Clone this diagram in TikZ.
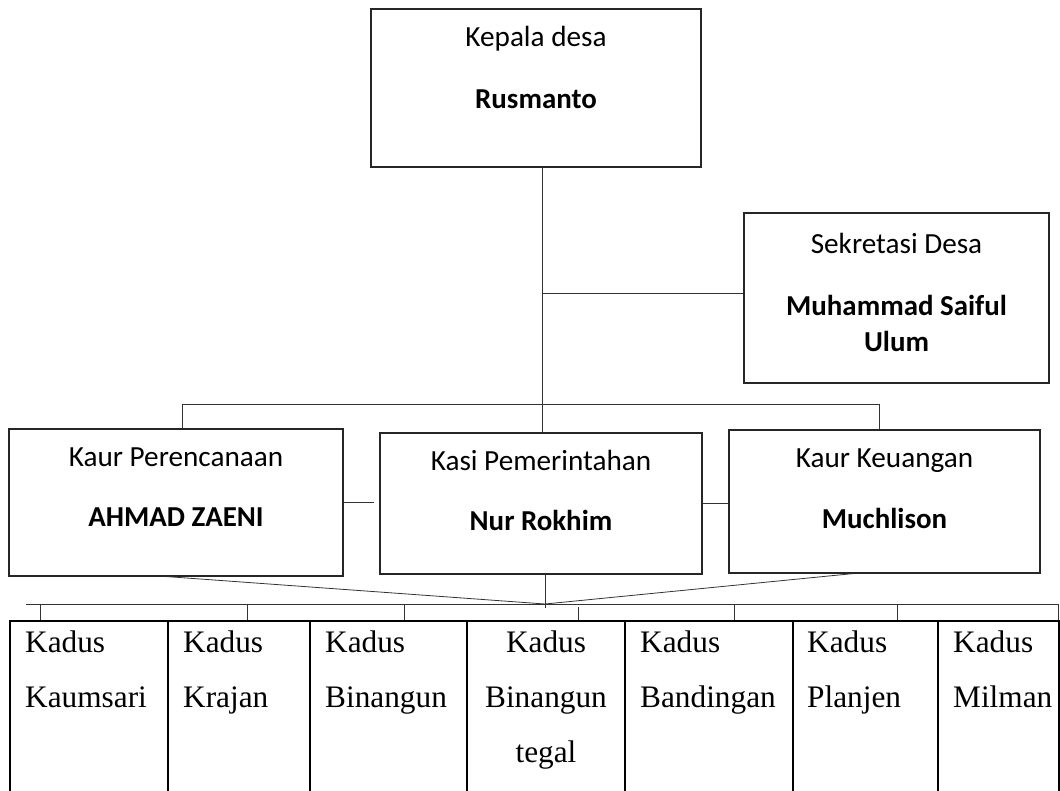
\documentclass[tikz,border=0pt]{standalone}
\usepackage{fontspec}
\setmainfont{Liberation Serif}
\newfontfamily\carlfont{Carlito}
\begin{document}
\begin{tikzpicture}[x=1pt,y=-1pt,
  box/.style={draw=black!85,line width=1.2pt,rectangle,inner sep=0pt},
  cell/.style={draw=black,line width=1.4pt,rectangle,inner sep=0pt,minimum height=179pt},
  conn/.style={draw=black!80,line width=0.8pt},
  tick/.style={draw=black!80,line width=0.8pt},
  bt/.style={anchor=base,inner sep=0pt,font=\carlfont\fontsize{29.2}{34}\selectfont},
  bb/.style={anchor=base,inner sep=0pt,font=\carlfont\bfseries\fontsize{28.9}{34}\selectfont},
  kt/.style={anchor=base west,inner sep=0pt,font=\fontsize{31.3}{36}\selectfont},
  kc/.style={anchor=base,inner sep=0pt,font=\fontsize{31.3}{36}\selectfont}]
\useasboundingbox (0,0) rectangle (1060,791);
\clip (0,0) rectangle (1060,791);
% boxes
\node[box,minimum width=330pt,minimum height=158pt] (kades) at (536,88) {};
\node[box,minimum width=305pt,minimum height=170pt] (sek) at (896.5,298) {};
\node[box,minimum width=334pt,minimum height=147pt] (perenc) at (176,502.5) {};
\node[box,minimum width=322pt,minimum height=141pt] (kasi) at (541,503.5) {};
\node[box,minimum width=311pt,minimum height=143pt] (keu) at (884.5,501.5) {};
% box texts
\node[bt] (t1) at (536,46.7) {Kepala desa};
\node[bb] (t2) at (536,108.3) {Rusmanto};
\node[bt] (t3) at (896.5,253.5) {Sekretasi Desa};
\node[bb] (t4) at (896.5,316) {Muhammad Saiful};
\node[bb] (t5) at (896.5,351.5) {Ulum};
\node[bt] (t6) at (176,466.7) {Kaur Perencanaan};
\node[bb] (t7) at (176,526.7) {AHMAD ZAENI};
\node[bt] (t8) at (541,470.7) {Kasi Pemerintahan};
\node[bb] (t9) at (541,530.7) {Nur Rokhim};
\node[bt] (t10) at (884.5,467.3) {Kaur Keuangan};
\node[bb] (t11) at (884.5,528.3) {Muchlison};
% connectors
\coordinate (vx) at ([xshift=1pt]kasi.north);
\draw[conn] (vx |- kades.south) -- (vx);
\coordinate (sekin) at ([yshift=5pt]sek.west);
\draw[conn] (vx |- sekin) -- (sekin);
\draw[conn] ([xshift=6pt]perenc.north) -- ++(0,-24) -| ([xshift=-5.5pt]keu.north);
\coordinate (g1) at ([xshift=-5pt]kasi.west);
\draw[conn] (perenc.east) -- (perenc.east -| g1);
\draw[conn] (kasi.east) -- (kasi.east -| keu.west);
\coordinate (jn) at (545,604);
\draw[conn] ([xshift=4pt]kasi.south) -- ++(0,33);
\draw[conn] ([xshift=-9pt]perenc.south) -- (jn);
\draw[conn] ([xshift=-31.5pt]keu.south) -- (jn);
% table cells
\node[cell,minimum width=158pt] (c1) at (89,710.5) {};
\node[cell,minimum width=142pt] (c2) at (239,710.5) {};
\node[cell,minimum width=157pt] (c3) at (388.5,710.5) {};
\node[cell,minimum width=158pt] (c4) at (546,710.5) {};
\node[cell,minimum width=168pt] (c5) at (709,710.5) {};
\node[cell,minimum width=145pt] (c6) at (865.5,710.5) {};
\node[cell,minimum width=121pt] (c7) at (998.5,710.5) {};
% bracket
\coordinate (brL) at (26,604);
\coordinate (brR) at (1058,604);
\draw[conn] (brL) -- (brR);
\coordinate (k1) at (40,604);
\coordinate (k2) at (247,604);
\coordinate (k3) at (404,604);
\coordinate (k4) at (578,607);
\coordinate (k5) at (734,604);
\coordinate (k6) at (897,604);
\coordinate (k7) at (1058,604);
\draw[tick] (k1) -- (k1 |- c1.north);
\draw[tick] (k2) -- (k2 |- c2.north);
\draw[tick] (k3) -- (k3 |- c3.north);
\draw[tick] (k4) -- (k4 |- c4.north);
\draw[tick] (k5) -- (k5 |- c5.north);
\draw[tick] (k6) -- (k6 |- c6.north);
\draw[tick] (k7) -- (k7 |- c7.north);
% table texts
\node[kt] (a1) at (25,652) {Kadus};
\node[kt] (a2) at (25,707) {Kaumsari};
\node[kt] (b1) at (183,652) {Kadus};
\node[kt] (b2) at (183,707) {Krajan};
\node[kt] (d1) at (325,652) {Kadus};
\node[kt] (d2) at (325,707) {Binangun};
\node[kc] (e1) at (546,652) {Kadus};
\node[kc] (e2) at (546,707) {Binangun};
\node[kc] (e3) at (546,762) {tegal};
\node[kt] (f1) at (640,652) {Kadus};
\node[kt] (f2) at (640,707) {Bandingan};
\node[kt] (g1t) at (807,652) {Kadus};
\node[kt] (g2t) at (807,707) {Planjen};
\node[kt] (h1) at (953,652) {Kadus};
\node[kt] (h2) at (953,707) {Milman};
\end{tikzpicture}
\end{document}
